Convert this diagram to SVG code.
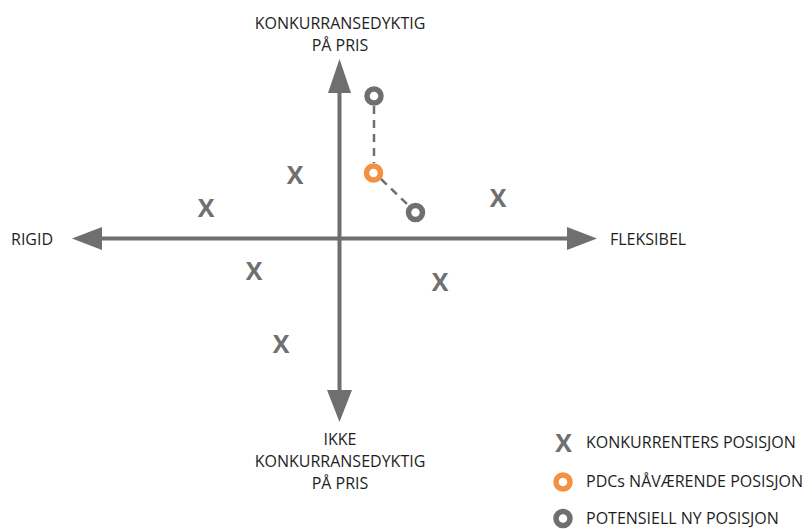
<svg xmlns="http://www.w3.org/2000/svg" width="812" height="529" viewBox="0 0 812 529">
  <style>
    .lbl { font-family: "Open Sans", "Noto Sans", sans-serif; font-size: 16px; fill: #1e1e1e; }
    .mid { text-anchor: middle; }
    .cross { font-family: "Open Sans", "Liberation Sans", sans-serif; font-weight: bold; font-size: 25px; fill: #707070; text-anchor: middle; }
    .axis { stroke: #6f6f6f; stroke-width: 4; fill: none; }
    .head { fill: #6f6f6f; }
    .dash { stroke: #6f6f6f; stroke-width: 2.5; stroke-dasharray: 8 6; fill: none; }
    .pos-now { fill: none; stroke: #f39041; stroke-width: 5.5; }
    .pos-new { fill: none; stroke: #6f6f6f; stroke-width: 5.5; }
  </style>
  <rect width="812" height="529" fill="#ffffff"/>

  <!-- axes -->
  <g id="connectors">
    <line class="axis" x1="339.5" y1="88" x2="339.5" y2="395"/>
    <polygon class="head" points="339.5,59 328,93 351,93"/>
    <polygon class="head" points="339.5,422 327,390 352,390"/>
    <line class="axis" x1="98" y1="238.5" x2="572" y2="238.5"/>
    <polygon class="head" points="72,238.5 102,227 102,250"/>
    <polygon class="head" points="597,238.5 567,227 567,250"/>
    <!-- movement paths -->
    <line class="dash" x1="374" y1="106" x2="374" y2="163"/>
    <line class="dash" x1="381" y1="179" x2="408" y2="205"/>
  </g>

  <!-- axis labels -->
  <g id="label-top">
    <text class="lbl mid" x="340" y="29">KONKURRANSEDYKTIG</text>
    <text class="lbl mid" x="340" y="51">PÅ PRIS</text>
  </g>
  <g id="label-bottom">
    <text class="lbl mid" x="340" y="445">IKKE</text>
    <text class="lbl mid" x="340" y="467">KONKURRANSEDYKTIG</text>
    <text class="lbl mid" x="340" y="489">PÅ PRIS</text>
  </g>
  <g id="label-left">
    <text class="lbl" x="11" y="245">RIGID</text>
  </g>
  <g id="label-right">
    <text class="lbl" x="610" y="245">FLEKSIBEL</text>
  </g>

  <!-- competitor positions -->
  <g id="competitors">
    <text class="cross" x="295" y="184">X</text>
    <text class="cross" x="206" y="217">X</text>
    <text class="cross" x="498" y="207">X</text>
    <text class="cross" x="254" y="280">X</text>
    <text class="cross" x="440" y="291">X</text>
    <text class="cross" x="281" y="353">X</text>
  </g>

  <!-- PDC positions -->
  <g id="pdc-current">
    <circle class="pos-now" cx="373.5" cy="173" r="7"/>
  </g>
  <g id="pdc-potential-1">
    <circle class="pos-new" cx="374" cy="96" r="7"/>
  </g>
  <g id="pdc-potential-2">
    <circle class="pos-new" cx="415.5" cy="212.5" r="7"/>
  </g>

  <!-- legend -->
  <g id="legend">
    <text class="cross" x="563.5" y="452">X</text>
    <text class="lbl" x="586" y="448">KONKURRENTERS POSISJON</text>
    <circle class="pos-now" cx="563" cy="482" r="7"/>
    <text class="lbl" x="586" y="487">PDCs NÅVÆRENDE POSISJON</text>
    <circle class="pos-new" cx="563" cy="518.5" r="7"/>
    <text class="lbl" x="586" y="523.5">POTENSIELL NY POSISJON</text>
  </g>
</svg>
